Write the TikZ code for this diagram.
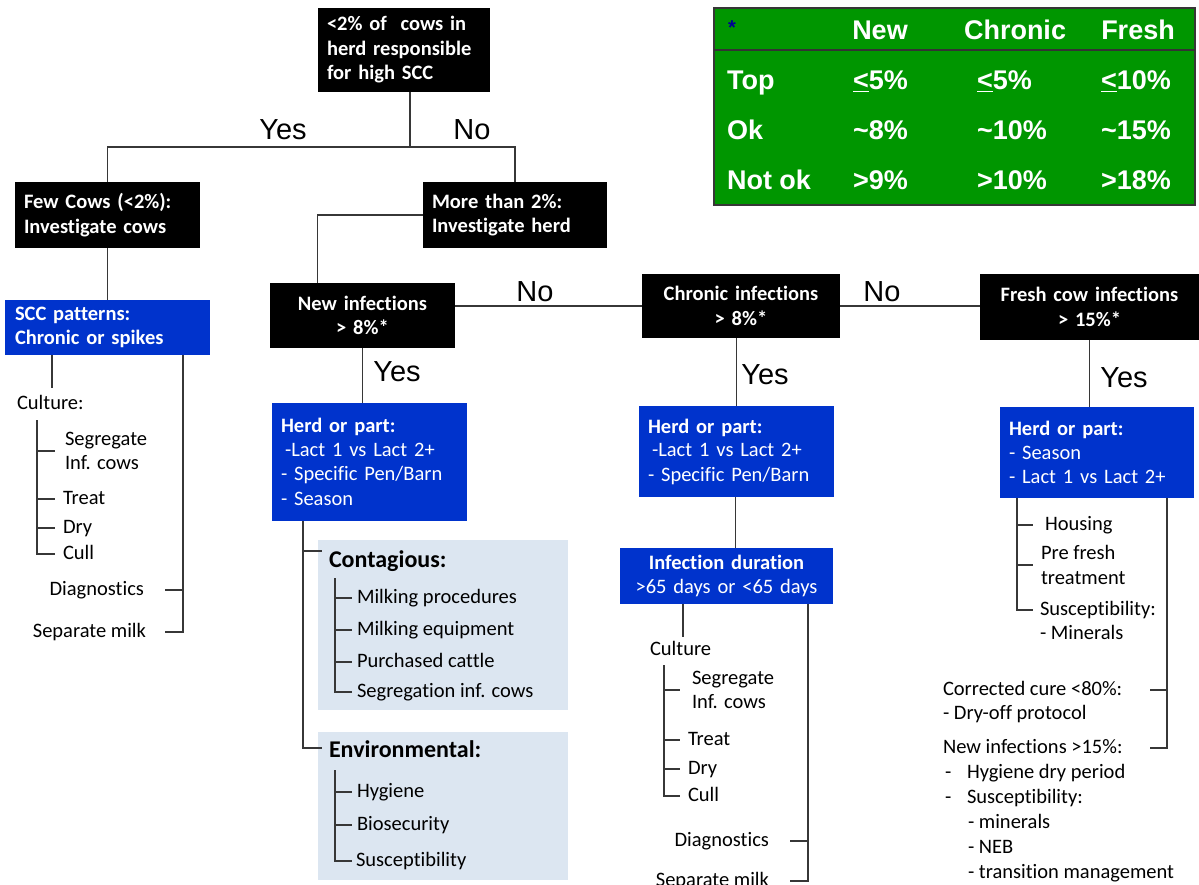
\documentclass[tikz,border=0pt]{standalone}
\usepackage{fontspec}
\setmainfont{Carlito}[Ligatures={NoCommon}]
\newfontfamily\arialf{Liberation Sans}
\usetikzlibrary{calc}
\definecolor{boxblue}{RGB}{0,51,204}
\definecolor{paleblue}{RGB}{220,230,241}
\definecolor{tablegreen}{RGB}{0,150,0}
\definecolor{linegray}{RGB}{55,55,55}
\definecolor{starblue}{RGB}{0,0,150}
\newcommand{\fs}{\fontsize{20.5}{24.5}\selectfont}
\newcommand{\fsy}{\fontsize{29}{30}\selectfont}
\newcommand{\fst}{\fontsize{27}{30}\selectfont}
\begin{document}
\begin{tikzpicture}[x=1pt,y=-1pt,
  every node/.style={inner sep=0pt, outer sep=0pt},
  conn/.style={draw=linegray, line width=1.4pt},
  box/.style={anchor=north west, text=white, font=\fs\bfseries, inner xsep=9pt},
  blackbox/.style={box, fill=black},
  bluebox/.style={box, fill=boxblue},
  palebox/.style={anchor=north west, fill=paleblue},
  txt/.style={anchor=west, font=\fs, text height=14pt, text depth=4pt},
  mtxt/.style={anchor=west, font=\fs, align=left},
  itm/.style={txt, inner xsep=8pt},
  ttl/.style={anchor=west, font=\fontsize{24}{28}\selectfont\bfseries, text height=16pt, text depth=5pt},
  lbl/.style={font=\arialf\fsy},
  tbl/.style={font=\arialf\bfseries\fst, text=white, text height=20pt, text depth=5pt},
  ]
\useasboundingbox (0,0) rectangle (1199,885);

% ---------- table ----------
\node[anchor=north west, fill=tablegreen, draw=linegray, line width=1.5pt,
      minimum width=481pt, minimum height=197pt] (table) at (714,8) {};
\draw[draw=black!80, line width=1.5pt] ($(table.north west)+(0,42)$) coordinate (hl) -- (hl -| table.east);
\node[font=\arialf\bfseries\fontsize{20}{22}\selectfont, text=starblue] (star) at (732,28) {*};
\node[tbl] (tnew) at (880,32) {New};
\node[tbl] (tchr) at (1015,32) {Chronic};
\node[tbl] (tfre) at (1138,32) {Fresh};
\node[tbl, anchor=west] (rtop) at (727,82) {Top};
\node[tbl, anchor=west] (rok) at (727,132) {Ok};
\node[tbl, anchor=west] (rnot) at (727,182) {Not ok};
\node[tbl, anchor=west] (v11) at (853,82) {\underline{<}5\%};
\node[tbl, anchor=west] (v12) at (977,82) {\underline{<}5\%};
\node[tbl, anchor=west] (v13) at (1101,82) {\underline{<}10\%};
\node[tbl, anchor=west] (v21) at (853,132) {\textasciitilde 8\%};
\node[tbl, anchor=west] (v22) at (977,132) {\textasciitilde 10\%};
\node[tbl, anchor=west] (v23) at (1101,132) {\textasciitilde 15\%};
\node[tbl, anchor=west] (v31) at (853,182) {>9\%};
\node[tbl, anchor=west] (v32) at (977,182) {>10\%};
\node[tbl, anchor=west] (v33) at (1101,182) {>18\%};

% ---------- top level ----------
\node[blackbox, text width=154pt, minimum height=84pt, align=left] (top) at (318,8)
  {<2\% of\ \ cows in\\herd responsible\\for high SCC};
\node[blackbox, text width=167pt, minimum height=66pt, align=left] (few) at (15,182)
  {Few Cows (<2\%):\\Investigate cows};
\node[blackbox, text width=166pt, minimum height=66pt, align=left] (more) at (423,182)
  {More than 2\%:\\Investigate herd};
\coordinate (topout) at ($(top.south)+(6,0)$);
\coordinate (split) at ($(top.south)+(6,55)$);
\draw[conn] (topout) -- (split) -| (few.north);
\draw[conn] (split) -| (more.north);
\node[lbl] (yes1) at (283,130) {Yes};
\node[lbl] (no1) at (472,130) {No};

% ---------- left column ----------
\node[bluebox, text width=185pt, minimum height=55pt, align=left, inner xsep=10pt] (scc) at (5,300)
  {SCC patterns:\\Chronic or spikes};
\draw[conn] (few.south) -- (few.south |- scc.north);
\node[txt] (cult1) at (17,404) {Culture:};
\coordinate (sccl) at ($(scc.south west)+(47,0)$);
\draw[conn] (sccl) -- ($(sccl |- cult1.north)+(0,-7)$);
\coordinate (v1) at (37,420);
\node[mtxt, inner xsep=10pt] (seg1) at (55,451) {Segregate\\Inf. cows};
\node[itm] (treat1) at (55,499) {Treat};
\node[itm] (dry1) at (55,528) {Dry};
\node[itm] (cull1) at (55,554) {Cull};
\draw[conn] (v1) |- (cull1.west);
\foreach \n in {seg1,treat1,dry1} \draw[conn] (v1 |- \n.west) -- (\n.west);
\node[txt, anchor=east, inner xsep=21pt] (diag1) at (165,590) {Diagnostics};
\node[txt, anchor=east, inner xsep=19pt] (sep1) at (165,632) {Separate milk};
\coordinate (sccr) at ($(scc.south west)+(178,0)$);
\draw[conn] (sccr) |- (sep1.east);
\draw[conn] (sccr |- diag1.east) -- (diag1.east);

% ---------- second row of decision boxes ----------
\node[blackbox, text width=167pt, minimum height=65pt, align=center] (newinf) at (270,283)
  {New infections\\> 8\%*};
\node[blackbox, text width=180pt, minimum height=64pt, align=center] (chronic) at (642,274)
  {Chronic infections\\> 8\%*};
\node[blackbox, text width=201pt, minimum height=66pt, align=center] (fresh) at (980,274)
  {Fresh cow infections\\> 15\%*};
\draw[conn] (more.west) -| ($(newinf.north)+(-45,0)$);
\draw[conn] (chronic.west) -- (chronic.west -| newinf.east);
\draw[conn] (chronic.east) -- (chronic.east -| fresh.west);
\node[lbl] (no2) at (535,292) {No};
\node[lbl] (no3) at (882,292) {No};

% ---------- new infections branch ----------
\node[bluebox, text width=177pt, minimum height=118pt, align=left] (herd1) at (272,403)
  {Herd or part:\\[-1pt]
   \mdseries\hspace{4pt}-Lact 1 vs Lact 2+\\
   \mdseries - Specific Pen/Barn\\
   \mdseries - Season};
\draw[conn] (newinf.south) -- (newinf.south |- herd1.north);
\node[lbl] (yes2) at (397,372) {Yes};
\node[palebox, minimum width=250pt, minimum height=170pt] (cbox) at (318,540) {};
\node[palebox, minimum width=250pt, minimum height=148pt] (ebox) at (318,732) {};
\coordinate (h1) at ($(herd1.south west)+(31,0)$);
\draw[conn] (h1) |- ($(ebox.north west)+(4,16)$);
\draw[conn] ($(h1 |- cbox.north)+(0,11)$) -- ($(cbox.north west)+(4,11)$);
\node[ttl] (ctitle) at (329,562) {Contagious:};
\coordinate (cv) at (335,578);
\node[txt, inner xsep=5pt] (ci1) at (352,598) {Milking procedures};
\node[txt, inner xsep=5pt] (ci2) at (352,630) {Milking equipment};
\node[txt, inner xsep=5pt] (ci3) at (352,662) {Purchased cattle};
\node[txt, inner xsep=5pt] (ci4) at (352,692) {Segregation inf. cows};
\draw[conn] (cv) |- (ci4.west);
\foreach \n in {ci1,ci2,ci3} \draw[conn] (cv |- \n.west) -- (\n.west);
\node[ttl] (etitle) at (329,752) {Environmental:};
\coordinate (ev) at (335,770);
\node[txt, inner xsep=5pt] (ei1) at (352,792) {Hygiene};
\node[txt, inner xsep=5pt] (ei2) at (352,825) {Biosecurity};
\node[txt, inner xsep=4pt] (ei3) at (352,861) {Susceptibility};
\draw[conn] (ev) |- (ei3.west);
\foreach \n in {ei1,ei2} \draw[conn] (ev |- \n.west) -- (\n.west);

% ---------- chronic branch ----------
\node[bluebox, text width=177pt, minimum height=91pt, align=left] (herd2) at (639,406)
  {Herd or part:\\[-1pt]
   \mdseries\hspace{4pt}-Lact 1 vs Lact 2+\\
   \mdseries - Specific Pen/Barn};
\draw[conn] (herd2.north) -- (herd2.north |- chronic.south);
\node[lbl] (yes3) at (765,375) {Yes};
\node[bluebox, text width=195pt, minimum height=56pt, align=center] (dur) at (620,548)
  {Infection duration\\\mdseries >65 days or <65 days};
\coordinate (hd) at ($(herd2.south)+(-1,0)$);
\draw[conn] (hd) -- (hd |- dur.north);
\node[txt] (cult2) at (650,650) {Culture};
\coordinate (dl) at ($(dur.south west)+(63,0)$);
\draw[conn] (dl) -- ($(dl |- cult2.north)+(0,-4)$);
\coordinate (v2) at (664,665);
\node[mtxt, inner xsep=12pt] (seg2) at (680,690) {Segregate\\Inf. cows};
\node[itm] (treat2) at (680,740) {Treat};
\node[itm] (dry2) at (680,769) {Dry};
\node[itm] (cull2) at (680,796) {Cull};
\draw[conn] (v2) |- (cull2.west);
\foreach \n in {seg2,treat2,dry2} \draw[conn] (v2 |- \n.west) -- (\n.west);
\node[txt, anchor=east, inner xsep=21pt] (diag2) at (790,841) {Diagnostics};
\node[txt, anchor=east, inner xsep=21pt] (sep2) at (790,881) {Separate milk};
\coordinate (dr) at ($(dur.south west)+(188,0)$);
\draw[conn] (dr) |- (sep2.east);
\draw[conn] (dr |- diag2.east) -- (diag2.east);

% ---------- fresh branch ----------
\node[bluebox, text width=176pt, minimum height=91pt, align=left] (herd3) at (1000,407)
  {Herd or part:\\[-1pt]
   \mdseries - Season\\
   \mdseries - Lact 1 vs Lact 2+};
\draw[conn] (fresh.south) -- (fresh.south |- herd3.north);
\node[lbl] (yes4) at (1124,378) {Yes};
\coordinate (f1) at ($(herd3.south west)+(17,0)$);
\node[txt, inner xsep=12pt] (hous) at (1033,525) {Housing};
\node[mtxt, inner xsep=8pt] (pref) at (1033,565) {Pre fresh\\treatment};
\node[txt, inner xsep=7pt] (fsus) at (1033,610) {Susceptibility:};
\node[txt] (fmin) at (1040,634) {- Minerals};
\draw[conn] (f1) |- (fsus.west);
\foreach \n in {hous,pref} \draw[conn] (f1 |- \n.west) -- (\n.west);
\coordinate (f2) at ($(herd3.south west)+(167,0)$);
\node[txt] (corr) at (943,690) {Corrected cure <80\%:};
\node[txt] (dryoff) at (943,714) {- Dry-off protocol};
\node[txt] (newi) at (943,748) {New infections >15\%:};
\coordinate (corrT) at (1150,690);
\coordinate (newiT) at (1150,748);
\draw[conn] (f2) |- (newiT);
\draw[conn] (f2 |- corrT) -- (corrT);
\node[txt] (d1) at (945,773) {-};
\node[txt] (hyg) at (967,773) {Hygiene dry period};
\node[txt] (d2) at (945,798) {-};
\node[txt] (sus2) at (967,798) {Susceptibility:};
\node[txt] (min2) at (968,823) {- minerals};
\node[txt] (neb) at (968,848) {- NEB};
\node[txt] (trans) at (968,873) {- transition management};
\end{tikzpicture}
\end{document}
